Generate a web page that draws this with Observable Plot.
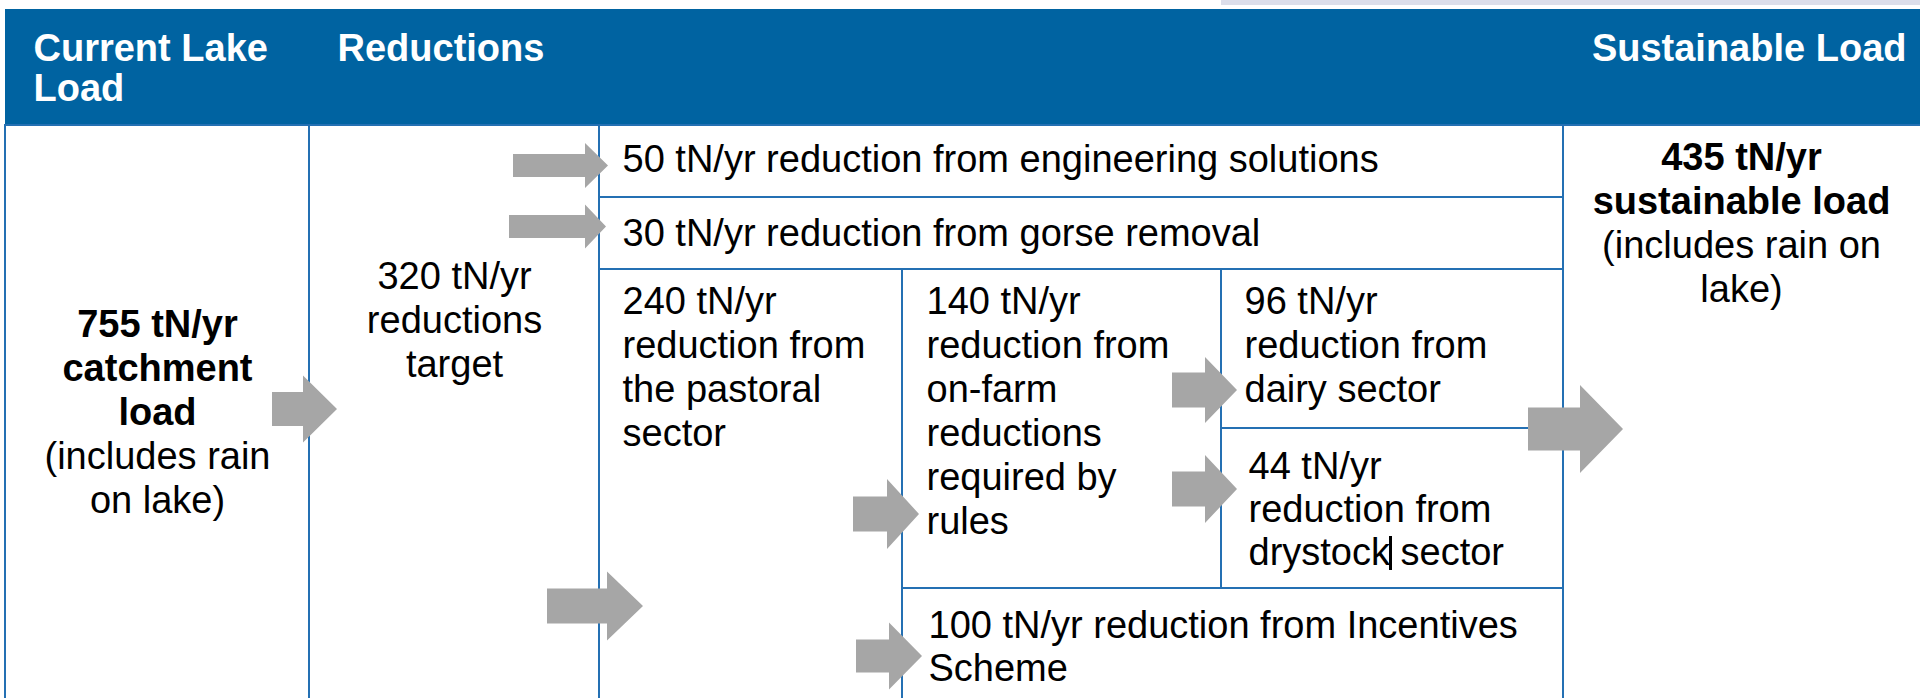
<!DOCTYPE html>
<html><head><meta charset="utf-8">
<script src="https://cdn.jsdelivr.net/npm/d3@7"></script>
<script src="https://cdn.jsdelivr.net/npm/@observablehq/plot@0.6"></script>
<style>
html,body{margin:0;padding:0;background:#fff;overflow:hidden}
</style></head><body><div id="chart"></div>
<script>
// ---------------- data ----------------
const headers = ["Current Lake\nLoad", "Reductions", "Sustainable Load"];
const unit = "tN/yr";
const cellIds   = ["catchment", "target", "engineering", "gorse", "pastoral", "onfarm", "dairy", "drystock", "incentives", "sustainable"];
const loadValues = [755, 320, 50, 30, 240, 140, 96, 44, 100, 435];
const boldTexts = ["\ncatchment\nload", "", "", "", "", "", "", "", "", "\nsustainable load"];
const plainTexts = [
  "(includes rain\non lake)",
  "\nreductions\ntarget",
  " reduction from engineering solutions",
  " reduction from gorse removal",
  "\nreduction from\nthe pastoral\nsector",
  "\nreduction from\non-farm\nreductions\nrequired by\nrules",
  "\nreduction from\ndairy sector",
  "\nreduction from\ndrystock sector",
  " reduction from Incentives\nScheme",
  "(includes rain on\nlake)"
];
const flows = [["target","engineering"],["target","gorse"],["catchment","target"],["target","pastoral"],
               ["pastoral","onfarm"],["pastoral","incentives"],["onfarm","dairy"],["onfarm","drystock"],["reductions","sustainable"]];

// ---------------- layout (positions / styles) ----------------
const W = 1920, H = 698;
const BLUE = "#0063a1", LINE = "#2470b3", GREY = "#a6a6a6";
const FS = 38;
const colEdge = [5, 309, 599, 902, 1221, 1563, 1922];
const rowEdge = [9, 125, 197, 269, 428, 588, 702];
// cell grid spans [c0,c1,r0,r1]
const cellGrid = {
  catchment: [0,1,1,6], target: [1,2,1,6], engineering: [2,5,1,2], gorse: [2,5,2,3],
  pastoral: [2,3,3,6], onfarm: [3,4,3,5], dairy: [4,5,3,4], drystock: [4,5,4,5],
  incentives: [3,5,5,6], sustainable: [5,6,1,6]
};
// text placement: x, anchor, first baseline, line step
const textPos = {
  catchment:  {x: 157,  a: "middle", b: 336, s: 44},
  target:     {x: 454,  a: "middle", b: 288, s: 44},
  engineering:{x: 622,  a: "start",  b: 171, s: 44},
  gorse:      {x: 622,  a: "start",  b: 245, s: 44},
  pastoral:   {x: 622,  a: "start",  b: 313, s: 44},
  onfarm:     {x: 926,  a: "start",  b: 313, s: 44},
  dairy:      {x: 1244, a: "start",  b: 313, s: 44},
  drystock:   {x: 1248, a: "start",  b: 478, s: 43},
  incentives: {x: 928,  a: "start",  b: 637, s: 43},
  sustainable:{x: 1741, a: "middle", b: 169, s: 44}
};
const headerPos = [{x: 33, a: "start", b: 60, s: 40}, {x: 337, a: "start", b: 60, s: 40}, {x: 1906, a: "end", b: 60, s: 40}];
// arrows: start x, head base x, tip x, centre y, shaft half height, head half height
const arrowGeom = [
  [513, 585, 608, 165.5, 11.5, 22.5],
  [509, 585, 606, 226.5, 11.5, 22],
  [272, 303, 337, 409, 17, 33.5],
  [547, 607, 643, 606, 17.5, 34.5],
  [853, 887, 919, 514, 17.5, 35],
  [856, 889, 922, 656, 16.5, 33.5],
  [1172, 1205, 1237, 390, 17.5, 33],
  [1172, 1205, 1237, 489, 17.5, 34],
  [1528, 1580, 1623, 429, 21.5, 44]
];
const caret = {x: 1390, y1: 536, y2: 570};

// ---------------- build mark tables ----------------
const cells = cellIds.map((id) => {
  const [c0, c1, r0, r1] = cellGrid[id];
  return {id, x1: colEdge[c0], x2: colEdge[c1], y1: rowEdge[r0], y2: rowEdge[r1]};
});

const textLines = [];
cellIds.forEach((id, i) => {
  const p = textPos[id];
  const first = `${loadValues[i]} ${unit}`;
  let lines = [];
  // combine value + bold + plain parts into lines with weights
  const bold = boldTexts[i];
  const plain = plainTexts[i];
  if (bold) {
    const bl = (first + bold).split("\n");
    bl.forEach(t => lines.push({t, w: "bold"}));
    plain.split("\n").forEach(t => lines.push({t, w: "normal"}));
  } else {
    const pl = (first + plain).split("\n");
    pl.forEach(t => lines.push({t, w: "normal"}));
  }
  lines.forEach((l, k) => textLines.push({x: p.x, y: p.b + k * p.s, text: l.t, anchor: p.a, weight: l.w, fill: "black"}));
});
headers.forEach((h, i) => {
  const p = headerPos[i];
  h.split("\n").forEach((t, k) => textLines.push({x: p.x, y: p.b + k * p.s, text: t, anchor: p.a, weight: "bold", fill: "white"}));
});

const arrowPts = [];
arrowGeom.forEach(([x0, xb, xt, cy, sh, hh], i) => {
  const id = flows[i].join("→");
  arrowPts.push({id, x: x0, y1: cy - sh, y2: cy + sh});
  arrowPts.push({id, x: xb, y1: cy - sh, y2: cy + sh});
  arrowPts.push({id, x: xb, y1: cy - hh, y2: cy + hh});
  arrowPts.push({id, x: xt, y1: cy, y2: cy});
});

const textMark = (anchor) => Plot.text(textLines.filter(d => d.anchor === anchor), {
  x: "x", y: "y", text: "text", textAnchor: anchor, lineAnchor: "bottom",
  fontSize: FS, fontWeight: "weight", fill: "fill"
});

const chart = Plot.plot({
  width: W, height: H, margin: 0,
  x: {domain: [0, W], range: [0, W], axis: null},
  y: {domain: [0, H], range: [0, H], axis: null},
  style: {fontFamily: "'Liberation Sans', Arial, sans-serif", background: "white", overflow: "hidden"},
  marks: [
    Plot.rect([{x1: 1221, x2: W, y1: 0, y2: 5}], {x1: "x1", x2: "x2", y1: "y1", y2: "y2", fill: "#dcdeea"}),
    Plot.rect([{x1: colEdge[0], x2: W, y1: rowEdge[0], y2: rowEdge[1]}], {x1: "x1", x2: "x2", y1: "y1", y2: "y2", fill: BLUE}),
    Plot.rect(cells, {x1: "x1", x2: "x2", y1: "y1", y2: "y2", fill: "none", stroke: LINE, strokeWidth: 2}),
    Plot.area(arrowPts, {x1: "x", y1: "y1", y2: "y2", z: "id", fill: GREY, curve: "linear"}),
    Plot.text(textLines.filter(d => d.weight === "bold" && d.anchor === "start"), {x: "x", y: "y", text: "text", textAnchor: "start", lineAnchor: "bottom", fontSize: FS, fontWeight: "bold", fill: "fill"}),
    Plot.text(textLines.filter(d => d.weight === "bold" && d.anchor === "end"), {x: "x", y: "y", text: "text", textAnchor: "end", lineAnchor: "bottom", fontSize: FS, fontWeight: "bold", fill: "fill"}),
    Plot.text(textLines.filter(d => d.weight === "bold" && d.anchor === "middle"), {x: "x", y: "y", text: "text", textAnchor: "middle", lineAnchor: "bottom", fontSize: FS, fontWeight: "bold", fill: "fill"}),
    Plot.text(textLines.filter(d => d.weight === "normal" && d.anchor === "start"), {x: "x", y: "y", text: "text", textAnchor: "start", lineAnchor: "bottom", fontSize: FS, fill: "fill"}),
    Plot.text(textLines.filter(d => d.weight === "normal" && d.anchor === "middle"), {x: "x", y: "y", text: "text", textAnchor: "middle", lineAnchor: "bottom", fontSize: FS, fill: "fill"}),
    Plot.ruleX([caret], {x: "x", y1: "y1", y2: "y2", stroke: "black", strokeWidth: 3})
  ]
});
document.getElementById("chart").appendChild(chart);
</script>
</body></html>
